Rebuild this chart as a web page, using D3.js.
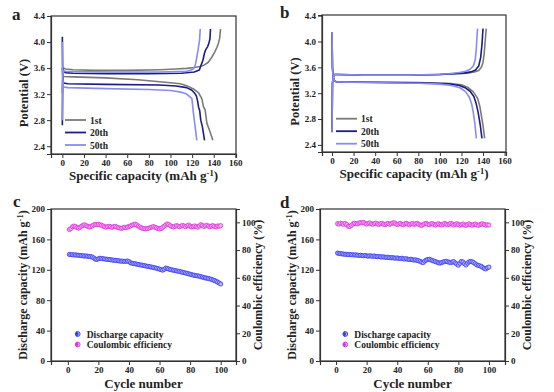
<!DOCTYPE html>
<html><head><meta charset="utf-8">
<script src="https://cdn.jsdelivr.net/npm/d3@7"></script>
<style>
body{margin:0;background:#fff;}
svg{display:block;}
text{font-family:"Liberation Serif","Times New Roman",serif;font-weight:bold;fill:#222;}
</style></head>
<body>
<svg id="chart" width="554" height="392"></svg>
<script>
// ---------------- DATA ----------------
const cycleLabels = ["1st", "20th", "50th"];
const cycleColors = ["#7a7a7a", "#1c1c86", "#8a8af6"];

// panel a: [capacity mAh/g, potential V]
const aCharge1st  = [[0,3.22],[0.3,3.5],[1,3.6],[3,3.585],[10,3.575],[30,3.565],[60,3.565],[90,3.575],[105,3.585],[115,3.595],[122,3.61],[127,3.625],[131,3.645],[135,3.69],[138.3,3.77],[141,3.85],[143,3.92],[144.5,3.99],[145.5,4.06],[146.3,4.2]];
const aDischarge1st = [[0,3.6],[0.3,3.52],[1,3.47],[10,3.465],[40,3.45],[70,3.42],[90,3.39],[100,3.375],[109,3.36],[115,3.33],[121.3,3.28],[126,3.22],[129,3.13],[130.6,3.0],[132,2.96],[133.7,2.75],[136,2.65],[139.2,2.49]];
const aCharge20th = [[0,2.72],[0.3,3.4],[1,3.55],[3,3.53],[10,3.52],[40,3.515],[80,3.515],[110,3.52],[122,3.54],[126.7,3.57],[128.2,3.64],[130,3.72],[131.3,3.82],[132.5,3.88],[134.4,3.93],[135.5,3.98],[136.5,4.05],[137,4.2]];
const aDischarge20th = [[0,4.08],[0.3,3.5],[1,3.37],[5,3.36],[40,3.35],[90,3.34],[105,3.325],[115,3.3],[119.8,3.26],[122,3.22],[123.8,3.18],[125,3.1],[126,3.0],[127,2.95],[128,2.8],[129.5,2.7],[131.5,2.49]];
const aCharge50th = [[0,2.8],[0.3,3.45],[1,3.56],[3,3.55],[10,3.545],[50,3.54],[90,3.54],[115,3.55],[119,3.57],[121.3,3.59],[123,3.65],[124.4,3.77],[125.5,3.88],[126.9,4.03],[127.5,4.2]];
const aDischarge50th = [[0,4.0],[0.3,3.45],[1,3.31],[5,3.30],[40,3.285],[80,3.27],[100,3.255],[110,3.23],[115,3.2],[119.8,3.13],[121.3,2.9],[122.8,2.7],[124.4,2.49]];

// panel b
const bCharge1st  = [[0,2.6],[0.4,3.35],[1,3.44],[2.5,3.49],[5,3.49],[30,3.48],[70,3.48],[100,3.49],[115,3.5],[125,3.51],[132,3.53],[136,3.55],[138.5,3.6],[140,3.68],[141,3.8],[142,4.0],[142.5,4.1],[143,4.2]];
const bDischarge1st = [[0,4.14],[0.4,3.6],[1,3.45],[2,3.4],[4,3.375],[30,3.37],[80,3.365],[110,3.35],[120,3.33],[126,3.29],[131,3.22],[135,3.12],[137,3.0],[138.5,2.85],[140,2.7],[141.5,2.5]];
const bCharge20th = [[0,2.6],[0.4,3.35],[1,3.44],[2.5,3.49],[5,3.49],[30,3.48],[70,3.48],[100,3.49],[112,3.5],[122,3.51],[129,3.53],[133,3.56],[136,3.62],[137.8,3.75],[139,3.95],[139.6,4.1],[140,4.2]];
const bDischarge20th = [[0,4.14],[0.4,3.6],[1,3.45],[2,3.4],[4,3.375],[30,3.37],[80,3.36],[108,3.345],[118,3.32],[124,3.28],[128,3.23],[131.5,3.15],[133.5,3.05],[135.5,2.9],[137.5,2.7],[139,2.5]];
const bCharge50th = [[0,2.59],[0.4,3.35],[1,3.44],[2.5,3.49],[5,3.49],[30,3.48],[70,3.48],[95,3.49],[108,3.5],[118,3.52],[124,3.54],[128,3.57],[131,3.62],[132.8,3.72],[133.8,3.9],[134.5,4.1],[135,4.2]];
const bDischarge50th = [[0,4.14],[0.4,3.6],[1,3.45],[2,3.4],[4,3.375],[30,3.365],[80,3.355],[100,3.34],[112,3.315],[119,3.28],[124,3.22],[127.5,3.13],[129.5,3.03],[131,2.9],[132.5,2.72],[133.8,2.5]];

// panels c and d: cycle number 1..100
const cycles = [1,2,3,4,5,6,7,8,9,10,11,12,13,14,15,16,17,18,19,20,21,22,23,24,25,26,27,28,29,30,31,32,33,34,35,36,37,38,39,40,41,42,43,44,45,46,47,48,49,50,51,52,53,54,55,56,57,58,59,60,61,62,63,64,65,66,67,68,69,70,71,72,73,74,75,76,77,78,79,80,81,82,83,84,85,86,87,88,89,90,91,92,93,94,95,96,97,98,99,100];
const cCapacity = [140.2,139.8,139.9,139.5,139.6,139.3,139.0,138.9,138.6,138.3,138.1,138.2,137.8,137.6,137.3,136.8,135.5,134.0,133.6,134.5,135.2,134.9,134.6,134.2,134.0,133.7,133.5,133.2,132.9,132.6,132.4,132.2,131.9,131.6,131.3,131.4,131.0,131.2,131.5,130.8,129.2,128.6,128.2,127.9,127.5,127.0,126.6,126.3,125.9,125.5,125.0,124.6,124.3,123.9,123.4,123.0,122.6,122.1,121.5,120.9,120.2,119.5,120.5,122.3,121.8,121.0,120.4,119.9,119.5,119.0,118.6,118.2,117.8,117.3,116.8,116.3,115.8,115.3,114.7,114.2,113.6,113.1,112.7,112.3,112.0,111.6,111.0,110.4,109.8,109.3,108.9,108.5,108.0,107.4,106.6,105.9,104.9,103.8,102.6,101.3];
const cEfficiency = [94.8,95.5,96.8,97.3,97.0,96.2,95.8,96.5,97.2,97.8,98.2,97.6,97.0,96.6,96.9,97.5,98.1,98.5,98.3,98.6,98.2,97.9,97.4,96.8,96.5,96.9,97.2,96.8,96.4,96.9,97.1,96.6,96.2,95.9,95.6,96.0,96.4,96.1,96.6,97.0,97.4,97.9,98.4,98.7,98.1,97.3,96.6,96.1,95.7,95.4,95.3,95.5,95.8,96.2,96.6,96.9,96.5,96.0,95.6,95.2,95.5,96.3,97.2,98.0,98.8,98.4,97.6,97.0,96.6,97.1,97.6,97.3,96.8,97.2,97.8,97.4,96.9,97.5,98.0,97.2,96.6,96.9,97.4,96.9,96.5,97.3,98.3,97.7,97.0,97.5,97.9,97.2,96.8,97.3,97.6,97.0,96.7,97.4,97.2,97.6];
const dCapacity = [142.0,141.6,141.2,141.0,140.6,140.4,140.3,140.1,140.0,139.8,139.7,139.5,139.6,139.2,138.9,139.1,138.7,138.5,138.9,138.3,138.0,138.4,138.1,137.7,138.2,137.6,137.3,137.5,137.0,136.8,137.1,136.5,136.3,136.6,136.0,135.8,136.1,135.5,135.3,135.6,135.0,134.8,135.2,134.5,134.2,134.6,133.8,133.5,133.9,133.2,132.8,133.1,132.4,131.8,131.2,130.0,129.5,131.5,132.8,133.5,133.8,133.0,132.2,131.5,130.8,130.0,129.2,128.8,129.5,130.3,130.8,131.2,130.5,130.0,129.5,130.2,130.8,129.0,127.5,126.0,128.5,131.0,130.2,128.0,126.2,128.8,130.5,131.0,130.5,129.5,128.0,126.5,125.8,125.2,124.5,123.0,121.8,121.2,122.8,123.6];
const dEfficiency = [99.0,98.7,99.3,99.0,98.5,99.2,98.4,97.2,97.0,97.8,98.8,99.4,99.1,98.8,99.5,99.8,99.6,99.9,99.3,98.7,99.2,99.6,99.0,98.6,99.1,99.4,98.8,98.5,99.0,99.3,98.7,98.3,98.9,99.2,98.6,98.9,99.5,99.7,99.0,98.4,98.8,99.2,98.6,98.3,98.9,99.3,98.7,98.2,98.8,99.1,98.5,98.9,99.3,98.6,98.0,97.7,98.4,99.0,99.2,98.6,98.3,98.9,99.1,98.5,98.0,98.6,99.0,98.4,98.1,98.7,99.2,98.6,98.2,98.8,99.3,98.7,98.1,98.5,99.0,98.4,97.9,98.3,98.8,98.2,97.8,98.4,98.9,98.3,97.9,98.4,98.8,98.2,97.8,98.3,98.7,98.9,98.4,97.9,98.2,98.0];

const capTicks = [0,40,80,120,160,200];
const effTicks = [0,20,40,60,80,100];
const cycleTicks = [0,20,40,60,80,100];
const capacityTicks = [0,20,40,60,80,100,120,140,160];
const potentialTicks = [2.4,2.8,3.2,3.6,4.0,4.4];
const legendCE = ["Discharge capacity", "Coulombic efficiency"];

// ---------------- DRAW ----------------
const svg = d3.select("#chart");
const TF = "9px";

function axisWithMinor(g, axisFn, scale, major, minor, labelFmt) {
  const ax = g.append("g");
  ax.call(axisFn(scale).tickValues(minor).tickSize(2).tickFormat(""));
  ax.call(axisFn(scale).tickValues(major).tickSize(4).tickPadding(2).tickFormat(labelFmt));
  ax.selectAll("path.domain").attr("stroke", "#333").attr("stroke-width", 1.2);
  ax.selectAll(".tick line").attr("stroke", "#333").attr("stroke-width", 1);
  ax.selectAll("text").style("font-size", TF).style("font-family", "Liberation Serif").style("font-weight", "bold").attr("fill", "#222");
  return ax;
}
function frame(x0, y0, x1, y1) {
  svg.append("rect").attr("x", x0).attr("y", y0).attr("width", x1 - x0).attr("height", y1 - y0)
    .attr("fill", "none").attr("stroke", "#333").attr("stroke-width", 1.2);
}
function panelLabel(t, x, y) {
  svg.append("text").attr("x", x).attr("y", y).text(t).style("font-size", "17px");
}
function unitTitle(sel, main, size) {
  sel.style("font-size", size);
  sel.append("tspan").text(main + " (mAh g");
  sel.append("tspan").text("-1").attr("dy", -4).style("font-size", "8.5px");
  sel.append("tspan").text(")").attr("dy", 4);
}

function voltagePanel(box, xDom, yDom, curves, label, legPos) {
  const [x0, y0, x1, y1] = box;
  const x = d3.scaleLinear().domain(xDom).range([x0, x1]);
  const y = d3.scaleLinear().domain(yDom).range([y1, y0]);
  const g = svg.append("g");
  const clip = "clip" + label;
  svg.append("clipPath").attr("id", clip).append("rect").attr("x", x0).attr("y", y0).attr("width", x1 - x0).attr("height", y1 - y0);
  const lineV = d3.line().x(d => x(d[0])).y(d => y(d[1])).curve(d3.curveLinear);
  curves.forEach((c, i) => {
    [c[0], c[1]].forEach(arr => {
      g.append("path").attr("d", lineV(arr)).attr("fill", "none")
        .attr("stroke", cycleColors[i]).attr("stroke-width", 1.6).attr("stroke-linejoin", "round")
        .attr("clip-path", `url(#${clip})`);
    });
  });
  frame(x0, y0, x1, y1);
  const minorX = d3.range(-10, 161, 10).filter(v => v % 20 !== 0 && v >= xDom[0] && v <= xDom[1]);
  const minorY = [2.6, 3.0, 3.4, 3.8, 4.2];
  axisWithMinor(g.append("g").attr("transform", `translate(0,${y1})`), d3.axisBottom, x, capacityTicks, minorX, d => d);
  axisWithMinor(g.append("g").attr("transform", `translate(${x0},0)`), d3.axisLeft, y, potentialTicks, minorY, d3.format(".1f"));
  const [lx, ly] = legPos;
  cycleLabels.forEach((t, i) => {
    const yy = ly + i * 12.5;
    g.append("line").attr("x1", lx).attr("x2", lx + 21).attr("y1", yy).attr("y2", yy)
      .attr("stroke", cycleColors[i]).attr("stroke-width", 1.8);
    g.append("text").attr("x", lx + 25).attr("y", yy + 3.5).text(t).style("font-size", "9.5px");
  });
  g.append("text").attr("transform", `translate(${x0 - 23},${(y0 + y1) / 2 + 8}) rotate(-90)`)
    .attr("text-anchor", "middle").text("Potential (V)").style("font-size", "12.5px");
  const tt = g.append("text").attr("x", (x0 + x1) / 2).attr("y", y1 + 26).attr("text-anchor", "middle");
  unitTitle(tt, "Specific capacity", "13px");
}

function cyclePanel(box, xDom, caps, effs, legPos) {
  const [x0, y0, x1, y1] = box;
  const x = d3.scaleLinear().domain(xDom).range([x0, x1]);
  const yL = d3.scaleLinear().domain([0, 200]).range([y1, y0]);
  const yR = d3.scaleLinear().domain([0, 109.6]).range([y1, y0]);
  const g = svg.append("g");
  frame(x0, y0, x1, y1);
  const mk = (sel, data, ys, fill, stroke) => sel.selectAll(null).data(data).enter().append("circle")
    .attr("cx", (d, i) => x(cycles[i])).attr("cy", d => ys(d)).attr("r", 2.1)
    .attr("fill", fill).attr("stroke", stroke).attr("stroke-width", 0.8);
  mk(g.append("g"), effs, yR, "#f4b0f4", "#dd33dd");
  mk(g.append("g"), caps, yL, "#b4b4ff", "#3a3af0");
  const minorX = [-10, 10, 30, 50, 70, 90, 110].filter(v => v >= xDom[0] && v <= xDom[1]);
  axisWithMinor(g.append("g").attr("transform", `translate(0,${y1})`), d3.axisBottom, x, cycleTicks, minorX, d => d);
  axisWithMinor(g.append("g").attr("transform", `translate(${x0},0)`), d3.axisLeft, yL, capTicks, [20, 60, 100, 140, 180], d => d);
  axisWithMinor(g.append("g").attr("transform", `translate(${x1},0)`), d3.axisRight, yR, effTicks, [10, 30, 50, 70, 90], d => d);
  const [lx, ly] = legPos;
  const lcol = [["#b4b4ff", "#3a3af0"], ["#f4b0f4", "#dd33dd"]];
  legendCE.forEach((t, i) => {
    const yy = ly + i * 10.5;
    g.append("circle").attr("cx", lx).attr("cy", yy).attr("r", 2.4).attr("fill", lcol[i][0]).attr("stroke", lcol[i][1]).attr("stroke-width", 0.9);
    g.append("path").attr("d", d3.symbol(d3.symbolDiamond, 10)()).attr("transform", `translate(${lx - 0.8},${yy})`).attr("fill", lcol[i][1]);
    g.append("text").attr("x", lx + 9).attr("y", yy + 3.5).text(t).style("font-size", "9.5px");
  });
  const tl = g.append("text").attr("transform", `translate(${x0 - 24},${(y0 + y1) / 2}) rotate(-90)`).attr("text-anchor", "middle");
  unitTitle(tl, "Discharge capacity", "12px");
  g.append("text").attr("transform", `translate(${x1 + 26},${(y0 + y1) / 2}) rotate(-90)`)
    .attr("text-anchor", "middle").text("Coulombic efficiency (%)").style("font-size", "12px");
  g.append("text").attr("x", (x0 + x1) / 2).attr("y", y1 + 27).attr("text-anchor", "middle")
    .text("Cycle number").style("font-size", "13px");
}

voltagePanel([51, 16, 236, 154], [-10.5, 160.6], [2.28, 4.4],
  [[aCharge1st, aDischarge1st], [aCharge20th, aDischarge20th], [aCharge50th, aDischarge50th]], "a", [65, 120]);
voltagePanel([322, 15, 506, 152], [-9.3, 161.3], [2.29, 4.41],
  [[bCharge1st, bDischarge1st], [bCharge20th, bDischarge20th], [bCharge50th, bDischarge50th]], "b", [336, 118.7]);
cyclePanel([51, 209, 236, 361], [-11, 110], cCapacity, cEfficiency, [77.7, 334]);
cyclePanel([320, 209, 505, 361], [-10.5, 110.5], dCapacity, dEfficiency, [345.3, 334]);

panelLabel("a", 12, 20);
panelLabel("b", 280, 18);
panelLabel("c", 13, 207);
panelLabel("d", 280, 208);
</script>
</body></html>
